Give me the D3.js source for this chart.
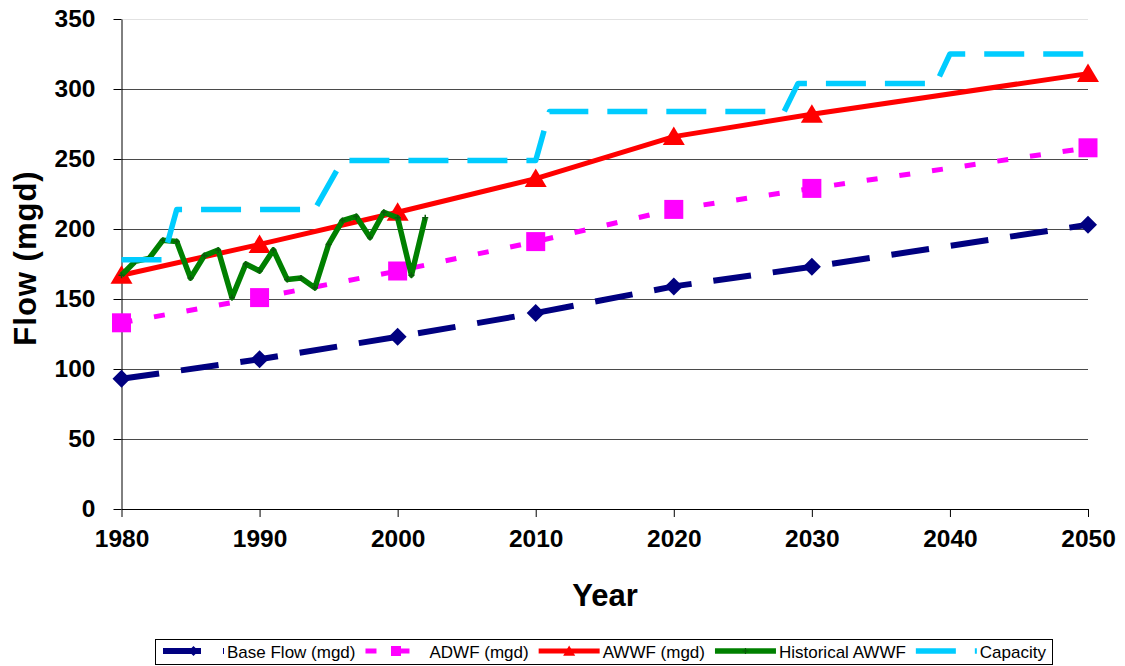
<!DOCTYPE html>
<html>
<head>
<meta charset="utf-8">
<script src="https://cdn.jsdelivr.net/npm/d3@7"></script>
<style>
  html, body { margin: 0; padding: 0; background: #fff; }
  svg { display: block; font-family: "Liberation Sans", Arial, sans-serif; }
</style>
</head>
<body>
<svg id="chart" width="1125" height="666"></svg>
<script>
// Projected flows by planning year
const years = [1980, 1990, 2000, 2010, 2020, 2030, 2050];
const baseFlow = [93, 107, 123, 140, 159, 173, 203];
const adwf = [133, 151, 170, 191, 214, 229, 258];
const awwf = [167, 189, 212, 236, 266, 282, 311];

// Recorded wet-weather flows
const histYears = [1980, 1981, 1982, 1983, 1984, 1985, 1986, 1987, 1988, 1989, 1990, 1991,
                   1992, 1993, 1994, 1995, 1996, 1997, 1998, 1999, 2000, 2001, 2002];
const histAwwf = [167, 177, 179, 192, 191, 165, 181, 185, 151, 175, 170, 185,
                  164, 165, 158, 189, 206, 209, 194, 212, 208, 167, 208];

// Treatment capacity steps
const capYears = [1980, 1983, 1984, 1994, 1996, 2010, 2011, 2028, 2029, 2039, 2040, 2050];
const capacity = [178, 178, 214, 214, 249, 249, 284, 284, 304, 304, 325, 325];

// Axis ticks
const xTicks = [1980, 1990, 2000, 2010, 2020, 2030, 2040, 2050];
const yTicks = [0, 50, 100, 150, 200, 250, 300, 350];

const svg = d3.select("#chart");
const x = d3.scaleLinear().domain([1980, 2050]).range([121.5, 1088]);
const y = d3.scaleLinear().domain([0, 350]).range([509, 19]);

// Horizontal gridlines
svg.append("g").selectAll("line").data(yTicks.filter(d => d > 0)).join("line")
  .attr("x1", x(1980)).attr("x2", x(2050))
  .attr("y1", d => Math.round(y(d)) + 0.5).attr("y2", d => Math.round(y(d)) + 0.5)
  .attr("stroke", d => d === 350 ? "#e2e2e2" : "#4a4a4a").attr("stroke-width", 1);

// Axes
const yAxis = svg.append("g").attr("transform", `translate(${x(1980)},0)`)
  .call(d3.axisLeft(y).tickValues(yTicks).tickSize(8).tickPadding(18).tickSizeOuter(0));
const xAxis = svg.append("g").attr("transform", `translate(0,${y(0)})`)
  .call(d3.axisBottom(x).tickValues(xTicks).tickFormat(d3.format("d")).tickSize(8).tickPadding(13).tickSizeOuter(0));
[yAxis, xAxis].forEach(g => {
  g.select(".domain").attr("stroke", "#000").attr("stroke-width", 1);
  g.selectAll(".tick line").attr("stroke", "#000");
  g.selectAll(".tick text").attr("fill", "#000")
    .style("font-family", "'Liberation Sans', Arial, sans-serif")
    .style("font-size", "24.5px").style("font-weight", "bold");
});

// Axis titles
svg.append("text").attr("x", 605).attr("y", 606).attr("text-anchor", "middle")
  .style("font-size", "31px").style("font-weight", "bold").text("Year");
svg.append("text").attr("transform", "translate(36,258) rotate(-90)").attr("text-anchor", "middle")
  .style("font-size", "31px").style("font-weight", "bold").style("letter-spacing", "1px").text("Flow (mgd)");

// Marker shapes
const markerPath = {
  diamond: s => `M0,${-s}L${s},0L0,${s}L${-s},0Z`,
  square: s => `M${-s},${-s}H${s}V${s}H${-s}Z`,
  triangle: s => `M0,${-s}L${s * 1.1},${s * 0.85}L${-s * 1.1},${s * 0.85}Z`,
  plus: s => `M${-s},0H${s}M0,${-s}V${s}`
};

const series = [
  { name: "Base Flow (mgd)", xs: years, ys: baseFlow, color: "#000080", width: 6, dash: "38,22", marker: "diamond", ms: 9, lms: 5 },
  { name: "ADWF (mgd)", xs: years, ys: adwf, color: "#FF00FF", width: 5, dash: "11,22", marker: "square", ms: 9.5, lms: 5 },
  { name: "AWWF (mgd)", xs: years, ys: awwf, color: "#FF0000", width: 5, dash: null, marker: "triangle", ms: 10, lms: 5.5 },
  { name: "Historical AWWF", xs: histYears, ys: histAwwf, color: "#008000", width: 5.5, dash: null, marker: "plus", ms: 3, lms: 3 },
  { name: "Capacity", xs: capYears, ys: capacity, color: "#00CCFF", width: 5.5, dash: "40,19", marker: null }
];

const line = d3.line().x(d => x(d[0])).y(d => y(d[1]));

series.forEach(s => {
  const pts = s.xs.map((v, i) => [v, s.ys[i]]);
  const g = svg.append("g");
  g.append("path").attr("d", line(pts)).attr("fill", "none")
    .attr("stroke", s.color).attr("stroke-width", s.width)
    .attr("stroke-dasharray", s.dash).attr("stroke-linejoin", "round");
  if (s.marker) {
    g.selectAll("path.m").data(pts).join("path").attr("class", "m")
      .attr("transform", d => `translate(${x(d[0])},${y(d[1])})`)
      .attr("d", markerPath[s.marker](s.ms))
      .attr("fill", s.marker === "plus" ? "none" : s.color)
      .attr("stroke", s.marker === "plus" ? "#0a5a0a" : "none")
      .attr("stroke-width", 1.5);
  }
});

// Legend
const leg = svg.append("g");
const legBox = leg.append("rect").attr("x", 155.5).attr("y", 639.5).attr("height", 25)
  .attr("fill", "#fff").attr("stroke", "#000").attr("stroke-width", 1);
let cx = 163;
const sampleLen = 61, legY = 651;
series.forEach((s, i) => {
  const it = leg.append("g");
  it.append("line").attr("x1", cx).attr("x2", cx + sampleLen).attr("y1", legY).attr("y2", legY)
    .attr("stroke", s.color).attr("stroke-width", s.width).attr("stroke-dasharray", s.dash);
  if (s.marker) {
    it.append("path").attr("transform", `translate(${cx + sampleLen / 2},${legY})`)
      .attr("d", markerPath[s.marker](s.lms))
      .attr("fill", s.marker === "plus" ? "none" : s.color)
      .attr("stroke", s.marker === "plus" ? "#0a5a0a" : "none").attr("stroke-width", 1.2);
  }
  const t = it.append("text").attr("x", cx + sampleLen + 3).attr("y", legY + 6.5)
    .style("font-size", "17px").attr("fill", "#000").text(s.name);
  cx += sampleLen + 3 + t.node().getComputedTextLength() + 10;
});
legBox.attr("width", Math.round(cx - 155) - 4);
</script>
</body>
</html>
